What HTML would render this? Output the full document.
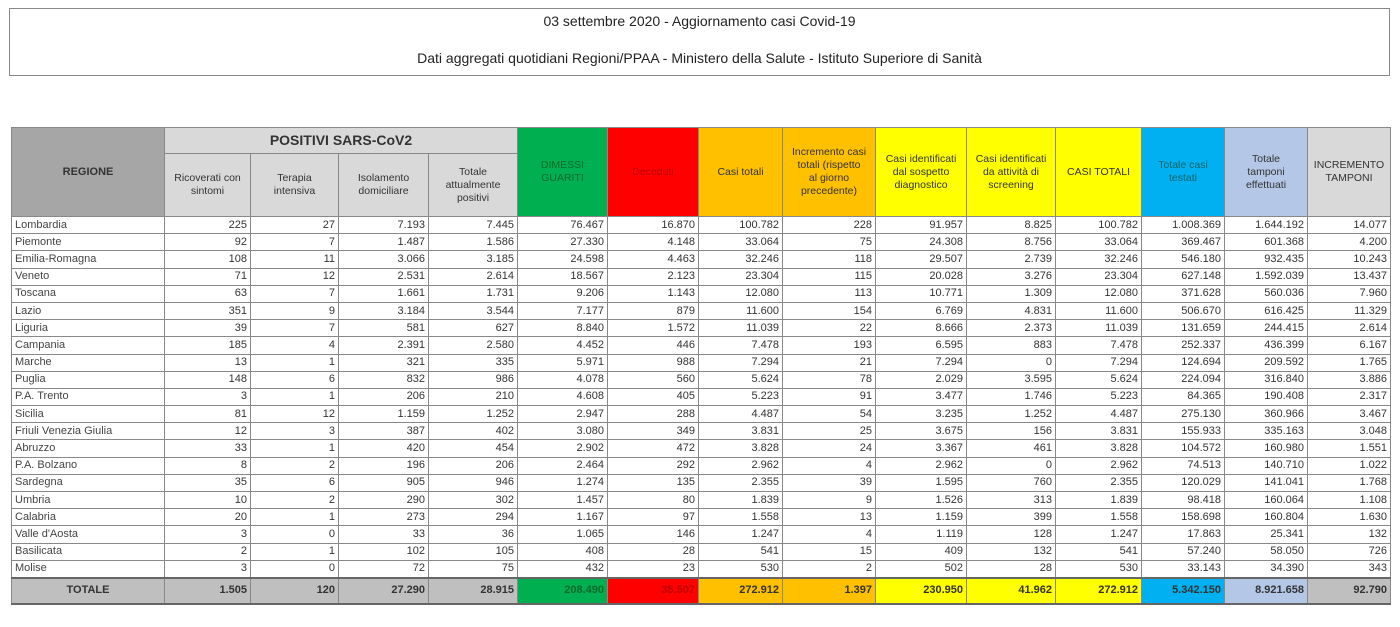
<!DOCTYPE html>
<html><head><meta charset="utf-8"><style>
body{margin:0;width:1400px;height:627px;background:#fff;font-family:"Liberation Sans",sans-serif;overflow:hidden;position:relative}
.title{position:absolute;left:9px;top:8px;width:1379px;height:66px;border:1px solid #888;text-align:center;font-size:14px;color:#222}
.title div{position:absolute;left:0;right:0}
table{position:absolute;left:11px;top:127px;border-collapse:collapse;table-layout:fixed;font-size:11px;color:#333}
td{border:1px solid #888;padding:0 3px;height:16.2px;text-align:right;white-space:nowrap;overflow:hidden;line-height:15px}
td.r{text-align:left;color:#444}
th{border:1px solid #888;font-weight:normal;font-size:10.5px;line-height:13px;padding:0 1px;color:#333}
.g{background:#00b050;color:#0a6a2a}.rd{background:#ff0000;color:#b00}.o{background:#ffc000}.y{background:#ffff00}.b{background:#00b0f0;color:#066}.lb{background:#b4c7e7}.gr{background:#d9d9d9}.dg{background:#a6a6a6}
tr.tot td{height:24px;font-weight:bold;background:#bfbfbf;border-top:2px solid #666;border-bottom:2px solid #666}
</style></head><body>
<div class="title"><div style="top:4px">03 settembre 2020 - Aggiornamento casi Covid-19</div><div style="top:41px">Dati aggregati quotidiani Regioni/PPAA - Ministero della Salute - Istituto Superiore di Sanità</div></div>
<table>
<colgroup><col style="width:153px"><col style="width:86px"><col style="width:88px"><col style="width:90px"><col style="width:89px"><col style="width:90px"><col style="width:91px"><col style="width:84px"><col style="width:93px"><col style="width:91px"><col style="width:89px"><col style="width:86px"><col style="width:83px"><col style="width:83px"><col style="width:83px"></colgroup>
<tr style="height:26px"><th rowspan="2" class="dg" style="font-weight:bold;font-size:11px">REGIONE</th><th colspan="4" class="gr" style="font-weight:bold;font-size:14px">POSITIVI SARS-CoV2</th><th rowspan="2" class="g">DIMESSI<br>GUARITI</th><th rowspan="2" class="rd">Deceduti</th><th rowspan="2" class="o">Casi totali</th><th rowspan="2" class="o">Incremento casi<br>totali (rispetto<br>al giorno<br>precedente)</th><th rowspan="2" class="y">Casi identificati<br>dal sospetto<br>diagnostico</th><th rowspan="2" class="y">Casi identificati<br>da attività di<br>screening</th><th rowspan="2" class="y">CASI TOTALI</th><th rowspan="2" class="b">Totale casi<br>testati</th><th rowspan="2" class="lb">Totale<br>tamponi<br>effettuati</th><th rowspan="2" class="gr">INCREMENTO<br>TAMPONI</th></tr>
<tr style="height:63px"><th class="gr">Ricoverati con<br>sintomi</th><th class="gr">Terapia<br>intensiva</th><th class="gr">Isolamento<br>domiciliare</th><th class="gr">Totale<br>attualmente<br>positivi</th></tr>
<tr><td class="r">Lombardia</td><td>225</td><td>27</td><td>7.193</td><td>7.445</td><td>76.467</td><td>16.870</td><td>100.782</td><td>228</td><td>91.957</td><td>8.825</td><td>100.782</td><td>1.008.369</td><td>1.644.192</td><td>14.077</td></tr>
<tr><td class="r">Piemonte</td><td>92</td><td>7</td><td>1.487</td><td>1.586</td><td>27.330</td><td>4.148</td><td>33.064</td><td>75</td><td>24.308</td><td>8.756</td><td>33.064</td><td>369.467</td><td>601.368</td><td>4.200</td></tr>
<tr><td class="r">Emilia-Romagna</td><td>108</td><td>11</td><td>3.066</td><td>3.185</td><td>24.598</td><td>4.463</td><td>32.246</td><td>118</td><td>29.507</td><td>2.739</td><td>32.246</td><td>546.180</td><td>932.435</td><td>10.243</td></tr>
<tr><td class="r">Veneto</td><td>71</td><td>12</td><td>2.531</td><td>2.614</td><td>18.567</td><td>2.123</td><td>23.304</td><td>115</td><td>20.028</td><td>3.276</td><td>23.304</td><td>627.148</td><td>1.592.039</td><td>13.437</td></tr>
<tr><td class="r">Toscana</td><td>63</td><td>7</td><td>1.661</td><td>1.731</td><td>9.206</td><td>1.143</td><td>12.080</td><td>113</td><td>10.771</td><td>1.309</td><td>12.080</td><td>371.628</td><td>560.036</td><td>7.960</td></tr>
<tr><td class="r">Lazio</td><td>351</td><td>9</td><td>3.184</td><td>3.544</td><td>7.177</td><td>879</td><td>11.600</td><td>154</td><td>6.769</td><td>4.831</td><td>11.600</td><td>506.670</td><td>616.425</td><td>11.329</td></tr>
<tr><td class="r">Liguria</td><td>39</td><td>7</td><td>581</td><td>627</td><td>8.840</td><td>1.572</td><td>11.039</td><td>22</td><td>8.666</td><td>2.373</td><td>11.039</td><td>131.659</td><td>244.415</td><td>2.614</td></tr>
<tr><td class="r">Campania</td><td>185</td><td>4</td><td>2.391</td><td>2.580</td><td>4.452</td><td>446</td><td>7.478</td><td>193</td><td>6.595</td><td>883</td><td>7.478</td><td>252.337</td><td>436.399</td><td>6.167</td></tr>
<tr><td class="r">Marche</td><td>13</td><td>1</td><td>321</td><td>335</td><td>5.971</td><td>988</td><td>7.294</td><td>21</td><td>7.294</td><td>0</td><td>7.294</td><td>124.694</td><td>209.592</td><td>1.765</td></tr>
<tr><td class="r">Puglia</td><td>148</td><td>6</td><td>832</td><td>986</td><td>4.078</td><td>560</td><td>5.624</td><td>78</td><td>2.029</td><td>3.595</td><td>5.624</td><td>224.094</td><td>316.840</td><td>3.886</td></tr>
<tr><td class="r">P.A. Trento</td><td>3</td><td>1</td><td>206</td><td>210</td><td>4.608</td><td>405</td><td>5.223</td><td>91</td><td>3.477</td><td>1.746</td><td>5.223</td><td>84.365</td><td>190.408</td><td>2.317</td></tr>
<tr><td class="r">Sicilia</td><td>81</td><td>12</td><td>1.159</td><td>1.252</td><td>2.947</td><td>288</td><td>4.487</td><td>54</td><td>3.235</td><td>1.252</td><td>4.487</td><td>275.130</td><td>360.966</td><td>3.467</td></tr>
<tr><td class="r">Friuli Venezia Giulia</td><td>12</td><td>3</td><td>387</td><td>402</td><td>3.080</td><td>349</td><td>3.831</td><td>25</td><td>3.675</td><td>156</td><td>3.831</td><td>155.933</td><td>335.163</td><td>3.048</td></tr>
<tr><td class="r">Abruzzo</td><td>33</td><td>1</td><td>420</td><td>454</td><td>2.902</td><td>472</td><td>3.828</td><td>24</td><td>3.367</td><td>461</td><td>3.828</td><td>104.572</td><td>160.980</td><td>1.551</td></tr>
<tr><td class="r">P.A. Bolzano</td><td>8</td><td>2</td><td>196</td><td>206</td><td>2.464</td><td>292</td><td>2.962</td><td>4</td><td>2.962</td><td>0</td><td>2.962</td><td>74.513</td><td>140.710</td><td>1.022</td></tr>
<tr><td class="r">Sardegna</td><td>35</td><td>6</td><td>905</td><td>946</td><td>1.274</td><td>135</td><td>2.355</td><td>39</td><td>1.595</td><td>760</td><td>2.355</td><td>120.029</td><td>141.041</td><td>1.768</td></tr>
<tr><td class="r">Umbria</td><td>10</td><td>2</td><td>290</td><td>302</td><td>1.457</td><td>80</td><td>1.839</td><td>9</td><td>1.526</td><td>313</td><td>1.839</td><td>98.418</td><td>160.064</td><td>1.108</td></tr>
<tr><td class="r">Calabria</td><td>20</td><td>1</td><td>273</td><td>294</td><td>1.167</td><td>97</td><td>1.558</td><td>13</td><td>1.159</td><td>399</td><td>1.558</td><td>158.698</td><td>160.804</td><td>1.630</td></tr>
<tr><td class="r">Valle d'Aosta</td><td>3</td><td>0</td><td>33</td><td>36</td><td>1.065</td><td>146</td><td>1.247</td><td>4</td><td>1.119</td><td>128</td><td>1.247</td><td>17.863</td><td>25.341</td><td>132</td></tr>
<tr><td class="r">Basilicata</td><td>2</td><td>1</td><td>102</td><td>105</td><td>408</td><td>28</td><td>541</td><td>15</td><td>409</td><td>132</td><td>541</td><td>57.240</td><td>58.050</td><td>726</td></tr>
<tr><td class="r">Molise</td><td>3</td><td>0</td><td>72</td><td>75</td><td>432</td><td>23</td><td>530</td><td>2</td><td>502</td><td>28</td><td>530</td><td>33.143</td><td>34.390</td><td>343</td></tr>
<tr class="tot"><td style="text-align:center">TOTALE</td><td>1.505</td><td>120</td><td>27.290</td><td>28.915</td><td class="g" style="background:#00b050">208.490</td><td class="rd" style="background:#ff0000">35.507</td><td style="background:#ffc000">272.912</td><td style="background:#ffc000">1.397</td><td style="background:#ffff00">230.950</td><td style="background:#ffff00">41.962</td><td style="background:#ffff00">272.912</td><td style="background:#00b0f0">5.342.150</td><td style="background:#b4c7e7">8.921.658</td><td>92.790</td></tr>
</table>
</body></html>
